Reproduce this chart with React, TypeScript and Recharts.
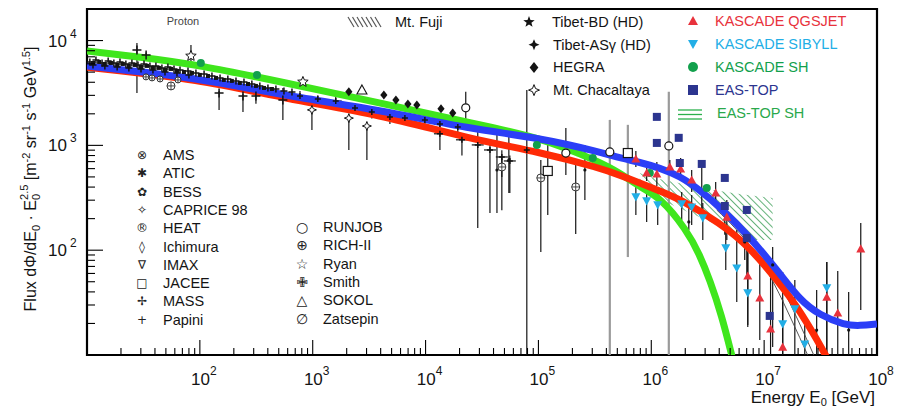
import React from 'react';
import {
  Area,
  ComposedChart,
  ErrorBar,
  Line,
  ReferenceArea,
  Scatter,
  XAxis,
  YAxis,
} from 'recharts';

const FONT = '"Liberation Sans", Arial, Helvetica, sans-serif';
const SYMBOL_FONT = '"DejaVu Sans", sans-serif';

const WIDTH = 900;
const HEIGHT = 411;
const PLOT_LEFT = 87;
const PLOT_BOTTOM = 355;

const E_MIN = 10;
const E_MAX = 1e8;
const FLUX_MIN = 10;
const FLUX_MAX = 20000;

const xDecades = [10, 100, 1e3, 1e4, 1e5, 1e6, 1e7];
const yDecades = [10, 100, 1e3, 1e4];
const tickSteps = [1, 2, 3, 4, 5, 6, 7, 8, 9];

// model fits: energy [GeV] vs flux * E^2.5
const greenFitE = [10, 29, 98, 579, 3940, 24700, 103000, 350000, 526000, 790000, 1190000, 2060000, 2690000, 3300000, 4200000, 5160000, 5600000];
const greenFitF = [7960, 6980, 5850, 3940, 2540, 1640, 1200, 695, 546, 401, 322, 156, 90, 52, 24, 10, 7];

const redFitE = [10, 100, 579, 3940, 24700, 103000, 350000, 526000, 1190000, 1790000, 4050000, 7450000, 13700000, 20700000, 35200000, 40000000];
const redFitF = [5550, 4260, 2780, 1970, 1150, 865, 608, 522, 367, 308, 182, 107, 48.6, 26.8, 10, 7.5];

const blueFitE = [10, 100, 579, 3940, 24700, 103000, 350000, 526000, 790000, 1190000, 1790000, 2690000, 4050000, 7450000, 13700000, 20700000, 31000000, 51800000, 70000000, 100000000];
const blueFitF = [5730, 4400, 2960, 2180, 1435, 1180, 865, 759, 690, 608, 510, 375, 258, 134, 60.5, 33.5, 24, 19.3, 19, 19.8];

// thin double line through the knee
const kneeLineAE = [3800000, 5500000, 8260000, 12400000, 17500000, 24300000];
const kneeLineBE = [4300000, 6210000, 9330000, 14000000, 19900000, 27500000];
const kneeLineF = [242, 163, 96.2, 46.6, 21.6, 10];

// EAS-TOP SH band
const easTopShE = [790000, 970000, 3510000, 6080000, 11900000];
const easTopShLo = [401, 336, 182, 125, 125];
const easTopShHi = [546, 499, 375, 344, 315];

// points: [energy, flux, bar low, bar high]
const cloudUpper = [
  [10.6, 6250], [12.0, 6530], [13.6, 6110], [15.4, 6380], [17.3, 6110], [19.6, 6250],
  [22.1, 5980], [25.0, 6110], [28.3, 5850], [32.0, 5980], [36.1, 5730], [40.8, 5730],
  [46.1, 5480], [52.1, 5600], [59.0, 5360], [66.7, 5240], [78.5, 5130], [92.3, 4910],
  [109, 4800], [128, 4590], [151, 4400], [177, 4300], [209, 4120], [246, 4030],
  [289, 3850], [340, 3690], [401, 3530], [472, 3450], [556, 3300], [655, 3230],
];
const cloudMid = [
  [11.3, 6110], [12.8, 6250], [14.4, 5980], [16.3, 6110], [18.5, 5850], [20.8, 5980],
  [23.5, 5730], [26.6, 5850], [30.1, 5600], [34.0, 5730], [38.4, 5480], [43.4, 5480],
  [49.1, 5240], [55.5, 5360], [62.7, 5130], [72.3, 5010], [85.1, 4910], [100, 4700],
  [118, 4590], [139, 4400], [163, 4210], [192, 4120], [226, 3940], [267, 3850],
  [314, 3690], [370, 3530], [435, 3450],
];
const cloudLower = [
  [11.3, 5850], [14.4, 5730], [18.5, 5600], [23.5, 5480], [30.1, 5360],
  [38.4, 5240], [49.1, 5010], [62.7, 4910], [80.0, 4700],
];
const papini = [
  [27.7, 8130, 3160, 9480], [33.4, 7290, 6900, 7700], [148, 3160, 2180, 3300],
  [241, 2960, 2080, 3100], [314, 2960, 2500, 3100], [544, 2710, 1750, 3530],
];
const richII = [[33.3, 4500], [37.7, 4400], [44.4, 4300], [64, 4210]];
const ryan = [[83.4, 7130, 6250, 9080], [819, 4030, 3700, 4400]];
const hegra = [[2090, 3240], [4270, 3030], [5460, 2710], [6970, 2480], [8370, 2430], [13700, 2230], [17400, 2040]];
const sokol = [[2730, 3380]];
const chacaltaya = [[984, 2180, 1400, 2300], [2090, 1820, 904, 1900], [3020, 1530, 726, 1600]];
const runjob = [[22700, 2280, 1400, 3240], [175000, 845, 522, 1466]];
const runjobWide = [[429000, 865, 10, 1750], [1430000, 987, 10, 3240]];
const jacee = [[121000, 570, 217, 1127]];
const jaceeWide = [[620000, 845, 86, 1570]];
const zatsepin = [[55.5, 3690, 3400, 4000], [47400, 622, 500, 750], [105000, 489, 96, 726], [214000, 401, 143, 726]];
const binnedHigh = [
  [771, 2960, 2600, 3300], [1110, 2770, 2500, 3000], [1600, 2650, 2300, 2900], [2370, 2270, 2000, 2500],
  [3340, 2080, 1800, 2300], [4830, 1870, 1600, 2050], [6560, 1820, 1600, 2000], [9860, 1750, 1500, 1950],
  [13400, 1600, 1350, 1800], [19300, 1500, 1250, 1700],
];
const binnedLow = [
  [13400, 1290, 904, 1400], [21000, 1130, 800, 1290], [29000, 1010, 163, 1400],
  [37200, 904, 226, 1100], [47400, 775, 240, 900], [55800, 710, 352, 800], [78900, 904, 10, 3380],
];
const tibetBars = [
  [42900, 582, 226, 1400], [54700, 726, 352, 1400], [258000, 582, 301, 1010], [2150000, 186, 156, 282],
  [6730000, 120, 80.5, 156], [11900000, 72.3, 11.9, 107], [29200000, 17.3, 10, 41.7], [56100000, 17.3, 10, 39.9],
];
const kascadeSh = [[102, 6110], [321, 4700], [96900, 1010], [303000, 759], [970000, 546], [3100000, 393]];
const kascadeQgsjet = [
  [730000, 742, 622, 885], [910000, 546, 457, 650], [1120000, 534, 410, 695], [1460000, 622, 522, 726],
  [1820000, 596, 468, 759], [2280000, 468, 359, 582], [3720000, 352, 270, 448], [4670000, 207, 125, 301],
  [7160000, 56.8, 19.3, 140], [9150000, 35.0, 13.9, 86], [11400000, 17.7, 10, 80.5], [14600000, 11.9, 10, 61.9],
  [35900000, 35.7, 10, 77], [44900000, 25.2, 10, 63.4], [71800000, 103, 26.8, 182],
];
const kascadeSibyll = [
  [730000, 322, 217, 419], [910000, 295, 186, 375], [1140000, 270, 174, 352], [1860000, 276, 194, 359],
  [2280000, 258, 174, 336], [2860000, 203, 125, 282], [4570000, 105, 64.7, 174], [5720000, 67.6, 32.1, 156],
  [7160000, 39.1, 18.5, 94], [14600000, 19.8, 10, 33.5], [18700000, 27.5, 10, 52], [22900000, 12.7, 10, 21.6],
  [35900000, 43.6, 10, 77],
];
const easTop = [
  [1120000, 1870], [1120000, 1055], [1750000, 1180], [1790000, 679], [2800000, 665, 217, 665],
  [4480000, 489], [4480000, 264, 140, 264], [7020000, 242], [7020000, 131, 57.9, 131], [11200000, 23.6],
];

// half-width of the energy bins drawn on the binned points (ratio)
const BIN_RATIO = 1.13;

const curve = (es: number[], fs: number[]) => es.map((e, i) => ({ e, f: fs[i] }));
const points = (rows: number[][], bin = 1) =>
  rows.map(([e, f, lo = f, hi = f]) => ({
    e,
    f,
    err: [f - lo, hi - f],
    xerr: [e - e / bin, e * bin - e],
  }));

const xTicks = [...xDecades.flatMap((d) => tickSteps.map((m) => d * m)).filter((v) => v > E_MIN), E_MAX];
const yTicks = yDecades.flatMap((d) => tickSteps.map((m) => d * m)).filter((v) => v > FLUX_MIN && v <= FLUX_MAX);

const C = {
  green: '#3fe61c',
  red: '#ff2a06',
  blue: '#2b3ef7',
  qgsjet: '#e8323c',
  sibyll: '#22aee6',
  sh: '#12a04c',
  eastop: '#2c358f',
  hatch: '#3c9e58',
  ink: '#141414',
};

type Kind =
  | 'triUp' | 'triDown' | 'openTri' | 'circle' | 'openCircle' | 'square' | 'openSquare'
  | 'diamond' | 'star5' | 'star5Open' | 'star4' | 'star4Open' | 'plus' | 'circlePlus' | 'dot';

function starPoints(cx: number, cy: number, r: number, ri: number, n: number) {
  const pts: string[] = [];
  for (let i = 0; i < n * 2; i++) {
    const a = -Math.PI / 2 + (i * Math.PI) / n;
    const rr = i % 2 === 0 ? r : ri;
    pts.push(`${cx + rr * Math.cos(a)},${cy + rr * Math.sin(a)}`);
  }
  return pts.join(' ');
}

function renderMark(kind: Kind, cx: number, cy: number, color: string, s: number) {
  if (!Number.isFinite(cx) || !Number.isFinite(cy)) return <g />;
  const h = s / 2;
  switch (kind) {
    case 'triUp':
      return <polygon points={`${cx},${cy - h} ${cx + h},${cy + h * 0.8} ${cx - h},${cy + h * 0.8}`} fill={color} />;
    case 'triDown':
      return <polygon points={`${cx - h},${cy - h * 0.8} ${cx + h},${cy - h * 0.8} ${cx},${cy + h}`} fill={color} />;
    case 'openTri':
      return <polygon points={`${cx},${cy - h} ${cx + h},${cy + h * 0.8} ${cx - h},${cy + h * 0.8}`} fill="#fff" stroke={color} strokeWidth={1.1} />;
    case 'circle':
      return <circle cx={cx} cy={cy} r={h} fill={color} />;
    case 'openCircle':
      return <circle cx={cx} cy={cy} r={h} fill="#fff" stroke={color} strokeWidth={1.2} />;
    case 'square':
      return <rect x={cx - h} y={cy - h} width={s} height={s} fill={color} />;
    case 'openSquare':
      return <rect x={cx - h} y={cy - h} width={s} height={s} fill="#fff" stroke={color} strokeWidth={1.2} />;
    case 'diamond':
      return <polygon points={`${cx},${cy - h} ${cx + h * 0.8},${cy} ${cx},${cy + h} ${cx - h * 0.8},${cy}`} fill={color} />;
    case 'star5':
      return <polygon points={starPoints(cx, cy, h, h * 0.42, 5)} fill={color} />;
    case 'star5Open':
      return <polygon points={starPoints(cx, cy, h, h * 0.45, 5)} fill="#fff" stroke={color} strokeWidth={1} />;
    case 'star4':
      return <polygon points={starPoints(cx, cy, h, h * 0.42, 4)} fill={color} />;
    case 'star4Open':
      return <polygon points={starPoints(cx, cy, h, h * 0.4, 4)} fill="#fff" stroke={color} strokeWidth={1} />;
    case 'plus':
      return <path d={`M${cx - h},${cy}H${cx + h}M${cx},${cy - h}V${cy + h}`} stroke={color} strokeWidth={1.5} />;
    case 'circlePlus':
      return (
        <g>
          <circle cx={cx} cy={cy} r={h} fill="#fff" stroke={color} strokeWidth={1} />
          <path d={`M${cx - h},${cy}H${cx + h}M${cx},${cy - h}V${cy + h}`} stroke={color} strokeWidth={0.9} />
        </g>
      );
    default:
      return <circle cx={cx} cy={cy} r={1.6} fill={color} />;
  }
}

type SeriesDef = {
  name: string;
  rows: number[][];
  kind: Kind;
  color: string;
  size: number;
  bars?: string;
  barWidth?: number;
  bin?: number;
};

// drawn in this order, direct measurements first
const scatterSeries: SeriesDef[] = [
  { name: 'tibetBars', rows: tibetBars, kind: 'dot', color: C.ink, size: 3, bars: C.ink },
  { name: 'runjobWide', rows: runjobWide, kind: 'openCircle', color: C.ink, size: 8, bars: '#9a9a9a', barWidth: 2.2 },
  { name: 'jaceeWide', rows: jaceeWide, kind: 'openSquare', color: C.ink, size: 9, bars: '#9a9a9a', barWidth: 2.2 },
  { name: 'binnedHigh', rows: binnedHigh, kind: 'plus', color: C.ink, size: 6, bars: C.ink, bin: BIN_RATIO },
  { name: 'binnedLow', rows: binnedLow, kind: 'plus', color: C.ink, size: 6, bars: C.ink, bin: BIN_RATIO },
  { name: 'cloudLower', rows: cloudLower, kind: 'plus', color: C.ink, size: 7 },
  { name: 'cloudMid', rows: cloudMid, kind: 'square', color: C.ink, size: 4 },
  { name: 'cloudUpper', rows: cloudUpper, kind: 'plus', color: C.ink, size: 7 },
  { name: 'papini', rows: papini, kind: 'plus', color: C.ink, size: 9, bars: C.ink },
  { name: 'richII', rows: richII, kind: 'circlePlus', color: '#333', size: 6 },
  { name: 'zatsepin', rows: zatsepin, kind: 'circlePlus', color: '#333', size: 8, bars: C.ink },
  { name: 'ryan', rows: ryan, kind: 'star5Open', color: C.ink, size: 11, bars: C.ink },
  { name: 'hegra', rows: hegra, kind: 'diamond', color: C.ink, size: 9 },
  { name: 'sokol', rows: sokol, kind: 'openTri', color: C.ink, size: 10 },
  { name: 'chacaltaya', rows: chacaltaya, kind: 'star4Open', color: C.ink, size: 9, bars: C.ink },
  { name: 'runjob', rows: runjob, kind: 'openCircle', color: C.ink, size: 8, bars: C.ink },
  { name: 'jacee', rows: jacee, kind: 'openSquare', color: C.ink, size: 9, bars: C.ink },
  { name: 'kascadeSh', rows: kascadeSh, kind: 'circle', color: C.sh, size: 8 },
  { name: 'kascadeQgsjet', rows: kascadeQgsjet, kind: 'triUp', color: C.qgsjet, size: 9, bars: C.ink },
  { name: 'kascadeSibyll', rows: kascadeSibyll, kind: 'triDown', color: C.sibyll, size: 9, bars: C.ink },
  { name: 'easTop', rows: easTop, kind: 'square', color: C.eastop, size: 8, bars: C.ink },
];

const fits = [
  { name: 'green', data: curve(greenFitE, greenFitF), color: C.green },
  { name: 'red', data: curve(redFitE, redFitF), color: C.red },
  { name: 'blue', data: curve(blueFitE, blueFitF), color: C.blue },
];

const hatchBand = easTopShE.map((e, i) => ({ e, band: [easTopShLo[i], easTopShHi[i]] }));

const isDecade = (v: number) => Math.abs(Math.log10(v) - Math.round(Math.log10(v))) < 1e-9;

function XTick(props: any) {
  const { x, payload } = props;
  const v = payload.value as number;
  const major = isDecade(v);
  const exp = Math.round(Math.log10(v));
  return (
    <g>
      <line x1={x} x2={x} y1={PLOT_BOTTOM} y2={PLOT_BOTTOM - (major ? 15 : 7)} stroke="#000" strokeWidth={1.1} />
      {major && exp >= 2 && (
        <text x={x + 4} y={385} textAnchor="middle" fontSize={17} fill={C.ink} fontFamily={FONT}>
          10
          <tspan dy={-10} fontSize={12}>{exp}</tspan>
        </text>
      )}
    </g>
  );
}

function YTick(props: any) {
  const { y, payload } = props;
  const v = payload.value as number;
  const major = isDecade(v);
  const exp = Math.round(Math.log10(v));
  return (
    <g>
      <line x1={PLOT_LEFT} x2={PLOT_LEFT + (major ? 16 : 8)} y1={y} y2={y} stroke="#000" strokeWidth={1.1} />
      {major && exp >= 2 && (
        <g fontFamily={FONT} fill={C.ink}>
          <text x={67} y={y + 6} textAnchor="end" fontSize={17}>10</text>
          <text x={70} y={y - 3} fontSize={12}>{exp}</text>
        </g>
      )}
    </g>
  );
}

const directLegendLeft = [
  ['⊗', 'AMS'], ['✱', 'ATIC'], ['✿', 'BESS'], ['✧', 'CAPRICE 98'], ['®', 'HEAT'],
  ['◊', 'Ichimura'], ['∇', 'IMAX'], ['□', 'JACEE'], ['✢', 'MASS'], ['+', 'Papini'],
];
const directLegendRight = [
  ['○', 'RUNJOB'], ['⊕', 'RICH-II'], ['☆', 'Ryan'], ['✙', 'Smith'], ['△', 'SOKOL'], ['∅', 'Zatsepin'],
];
const airLegend: [Kind, string][] = [
  ['star5', 'Tibet-BD (HD)'], ['star4', 'Tibet-ASγ (HD)'], ['diamond', 'HEGRA'], ['star4Open', 'Mt. Chacaltaya'],
];
const kascadeLegend: [Kind, string, string][] = [
  ['triUp', 'KASCADE QGSJET', C.qgsjet],
  ['triDown', 'KASCADE SIBYLL', C.sibyll],
  ['circle', 'KASCADE SH', C.sh],
  ['square', 'EAS-TOP', C.eastop],
];

function Overlay() {
  return (
    <svg
      width={WIDTH}
      height={HEIGHT}
      style={{ position: 'absolute', left: 0, top: 0, pointerEvents: 'none' }}
      fontFamily={FONT}
    >
      {/* axis titles */}
      <text transform="translate(36 179) rotate(-90)" textAnchor="middle" fontSize={16} fill={C.ink}>
        Flux dΦ/dE<tspan dy={4} fontSize={11}>0</tspan>
        <tspan dy={-4}> · E</tspan>
        <tspan dy={4} fontSize={11}>0</tspan>
        <tspan dy={-12} dx={-6} fontSize={11}>2.5</tspan>
        <tspan dy={8}> [m</tspan>
        <tspan dy={-6} fontSize={11}>-2</tspan>
        <tspan dy={6}> sr</tspan>
        <tspan dy={-6} fontSize={11}>-1</tspan>
        <tspan dy={6}> s</tspan>
        <tspan dy={-6} fontSize={11}>-1</tspan>
        <tspan dy={6}> GeV</tspan>
        <tspan dy={-6} fontSize={11}>1.5</tspan>
        <tspan dy={6}>]</tspan>
      </text>
      <text x={875} y={403} textAnchor="end" fontSize={17} fill={C.ink}>
        Energy E<tspan dy={3} fontSize={11}>0</tspan>
        <tspan dy={-3}> [GeV]</tspan>
      </text>
      <text x={183} y={25} textAnchor="middle" fontSize={11} fill="#444">Proton</text>

      {/* direct measurements */}
      {directLegendLeft.map(([sym, label], i) => (
        <g key={label}>
          <text x={142} y={155 + i * 18.3} textAnchor="middle" dominantBaseline="central" fontSize={12} fontFamily={SYMBOL_FONT} fill="#222">{sym}</text>
          <text x={163} y={155 + i * 18.3} dominantBaseline="central" fontSize={14.5} fill={C.ink}>{label}</text>
        </g>
      ))}
      {directLegendRight.map(([sym, label], i) => (
        <g key={label}>
          <text x={302} y={227 + i * 18.3} textAnchor="middle" dominantBaseline="central" fontSize={14} fontFamily={SYMBOL_FONT} fill="#222">{sym}</text>
          <text x={323} y={227 + i * 18.3} dominantBaseline="central" fontSize={14.5} fill={C.ink}>{label}</text>
        </g>
      ))}

      {/* Mt. Fuji hatch */}
      {[0, 1, 2, 3, 4, 5, 6].map((k) => (
        <line key={k} x1={348 + k * 4.5} y1={17} x2={354 + k * 4.5} y2={27} stroke="#555" strokeWidth={1.2} />
      ))}
      <text x={395} y={22} dominantBaseline="central" fontSize={14.5} fill={C.ink}>Mt. Fuji</text>

      {airLegend.map(([kind, label], i) => (
        <g key={label}>
          {renderMark(kind, i === 0 ? 529 : 534, 22 + i * 22.7, C.ink, kind === 'star5' ? 12 : 11)}
          <text x={i === 0 ? 552 : 553} y={22 + i * 22.7} dominantBaseline="central" fontSize={14.5} fill={C.ink}>{label}</text>
        </g>
      ))}

      {kascadeLegend.map(([kind, label, color], i) => (
        <g key={label}>
          {renderMark(kind, 693, 21 + i * 23, color, 10)}
          <text x={715} y={21 + i * 23} dominantBaseline="central" fontSize={14.5} fill={color}>{label}</text>
        </g>
      ))}
      {[110, 114.5, 119].map((y) => (
        <line key={y} x1={678} x2={702} y1={y} y2={y} stroke="#2bb04c" strokeWidth={1.3} />
      ))}
      <text x={717} y={113} dominantBaseline="central" fontSize={14.5} fill="#2aa84b">EAS-TOP SH</text>
    </svg>
  );
}

export default function App() {
  return (
    <div style={{ position: 'absolute', left: 0, top: 0, width: WIDTH, height: HEIGHT, background: '#fff' }}>
      <ComposedChart
        width={WIDTH}
        height={HEIGHT}
        margin={{ top: 9, right: 23, bottom: 0, left: 0 }}
        style={{ fontFamily: FONT }}
      >
        <defs>
          <pattern id="easTopShHatch" width={5} height={5} patternUnits="userSpaceOnUse" patternTransform="rotate(-45)">
            <line x1={0} y1={0} x2={0} y2={5} stroke={C.hatch} strokeWidth={1.6} />
          </pattern>
        </defs>
        <XAxis
          dataKey="e"
          type="number"
          scale="log"
          domain={[E_MIN, E_MAX]}
          allowDataOverflow
          ticks={xTicks}
          interval={0}
          tick={(p: any) => <XTick {...p} />}
          tickLine={false}
          axisLine={false}
          height={56}
        />
        <YAxis
          dataKey="f"
          type="number"
          scale="log"
          domain={[FLUX_MIN, FLUX_MAX]}
          allowDataOverflow
          ticks={yTicks}
          interval={0}
          tick={(p: any) => <YTick {...p} />}
          tickLine={false}
          axisLine={false}
          width={87}
        />
        <Area
          data={hatchBand}
          dataKey="band"
          type="linear"
          stroke="none"
          fill="url(#easTopShHatch)"
          fillOpacity={1}
          isAnimationActive={false}
        />
        {scatterSeries.map((s) => (
          <Scatter
            key={s.name}
            name={s.name}
            data={points(s.rows, s.bin)}
            shape={(p: any) => renderMark(s.kind, p.cx, p.cy, s.color, s.size)}
            isAnimationActive={false}
          >
            {s.bars && (
              <ErrorBar dataKey="err" direction="y" width={0} stroke={s.bars} strokeWidth={s.barWidth ?? 1.2} />
            )}
            {s.bin && <ErrorBar dataKey="xerr" direction="x" width={0} stroke={C.ink} strokeWidth={1.2} />}
          </Scatter>
        ))}
        <Line data={curve(kneeLineAE, kneeLineF)} dataKey="f" type="monotone" stroke="#444" strokeWidth={0.9} dot={false} isAnimationActive={false} />
        <Line data={curve(kneeLineBE, kneeLineF)} dataKey="f" type="monotone" stroke="#444" strokeWidth={0.9} dot={false} isAnimationActive={false} />
        {fits.map((f) => (
          <Line
            key={f.name}
            data={f.data}
            dataKey="f"
            type="basis"
            stroke={f.color}
            strokeWidth={7}
            dot={false}
            isAnimationActive={false}
          />
        ))}
        <ReferenceArea
          x1={E_MIN}
          x2={E_MAX}
          y1={FLUX_MIN}
          y2={FLUX_MAX}
          fill="none"
          stroke="#000"
          strokeWidth={2.2}
          ifOverflow="visible"
        />
      </ComposedChart>
      <Overlay />
    </div>
  );
}
